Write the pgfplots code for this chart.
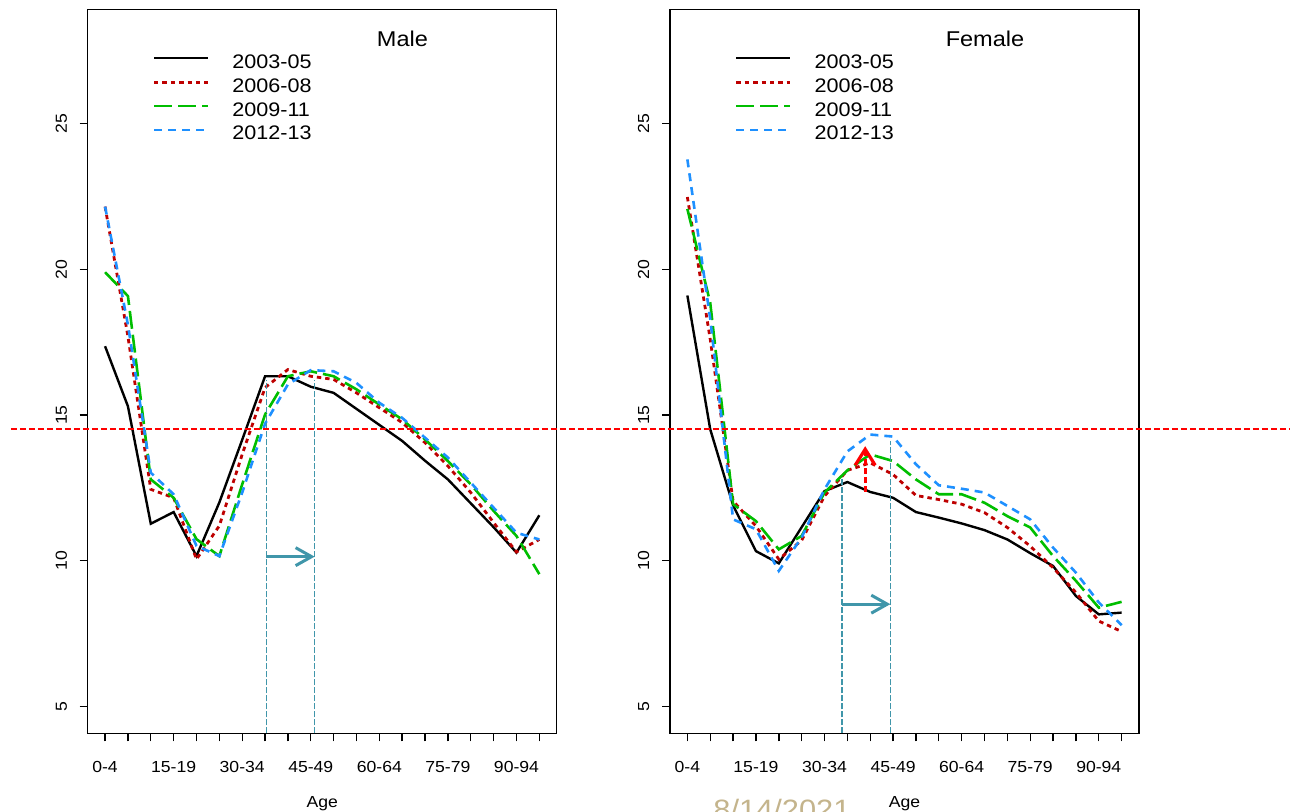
\documentclass[border=0pt]{standalone}
\usepackage{fontspec}
\setmainfont{Liberation Sans}[FakeStretch=1.1]
\usepackage{pgfplots}
\usepackage{pgfplotstable}
\pgfplotsset{compat=1.18}
\usetikzlibrary{arrows.meta}

\definecolor{c2}{RGB}{190,0,0}
\definecolor{c3}{RGB}{0,190,0}
\definecolor{c4}{RGB}{30,144,255}
\definecolor{tl}{RGB}{64,150,170}
\definecolor{wm}{RGB}{196,180,140}

% i = age group (0 = 0-4, ..., 19 = 95+)
\pgfplotstableread{
i a b c d
0 17.36 22.15 19.90 22.15
1 15.30 17.70 19.08 18.10
2 11.27 12.45 12.79 13.02
3 11.67 12.16 12.16 12.28
4 10.16 10.05 10.74 10.51
5 12.00 11.20 10.16 10.16
6 14.15 13.65 12.62 12.34
7 16.33 15.94 15.02 14.70
8 16.33 16.56 16.33 16.05
9 15.97 16.33 16.50 16.54
10 15.76 16.22 16.33 16.50
11 15.21 15.76 15.88 16.10
12 14.66 15.25 15.36 15.42
13 14.11 14.74 14.85 14.90
14 13.43 14.05 14.16 14.22
15 12.79 13.25 13.42 13.54
16 11.97 12.34 12.62 12.68
17 11.15 11.31 11.71 11.82
18 10.28 10.30 10.85 10.96
19 11.56 10.73 9.54 10.73
}\male

\pgfplotstableread{
i a b c d
0 19.10 22.48 22.07 23.77
1 14.51 17.60 18.85 18.30
2 11.90 12.05 11.94 11.42
3 10.33 11.19 11.36 11.08
4 9.91 10.05 10.39 9.65
5 11.15 10.70 10.85 10.80
6 12.39 12.22 12.34 12.45
7 12.70 13.10 13.10 13.75
8 12.36 13.36 13.65 14.33
9 12.16 12.96 13.42 14.26
10 11.67 12.24 12.79 13.31
11 11.48 12.10 12.28 12.59
12 11.28 11.94 12.28 12.47
13 11.05 11.65 11.99 12.34
14 10.73 11.14 11.53 11.88
15 10.26 10.50 11.14 11.42
16 9.82 9.76 10.16 10.45
17 8.79 8.91 9.31 9.59
18 8.16 7.93 8.39 8.57
19 8.22 7.57 8.59 7.79
}\female

\newcommand\legfont{\fontsize{9.8}{11}\selectfont}
\newcommand\tickfont{\fontsize{8}{9}\selectfont}

\tikzset{
  s1/.style={black, line width=1.2pt},
  s2/.style={c2, line width=1.4pt, dash pattern=on 2.2pt off 2pt},
  s3/.style={c3, line width=1.3pt, dash pattern=on 9pt off 3pt},
  s4/.style={c4, line width=1.3pt, dash pattern=on 4pt off 3pt},
  vl/.style={tl, line width=0.8pt, dash pattern=on 3pt off 1pt},
}

\pgfplotsset{
  panel/.style={
    scale only axis, width=234.5pt, height=362pt,
    anchor=south west,
    xmin=-0.76, xmax=19.76, ymin=4.08, ymax=28.92,
    xtick={0,...,19},
    xticklabels={0-4,,,15-19,,,30-34,,,45-49,,,60-64,,,75-79,,,90-94,},
    ytick={5,10,15,20,25},
    tick align=outside, tick pos=left,
    major tick length=4pt,
    axis line style={line width=0.7pt},
    every tick/.style={black, line width=0.7pt},
    tick label style={font=\tickfont},
    /pgf/number format/assume math mode=true,
    yticklabel style={rotate=90, anchor=south},
    xticklabel shift=6.7pt, yticklabel shift=2.8pt,
    xlabel={Age},
    xlabel style={at={(axis description cs:0.5,0)}, anchor=base, yshift=-37pt, font=\tickfont},
  },
}

\begin{document}
\begin{tikzpicture}
\path[use as bounding box] (0,0) rectangle (645.5pt,406pt);

% Male
\begin{axis}[panel, at={(43.85pt,39.35pt)}]
\addplot[s1] table[x=i,y=a]{\male};
\addplot[s2] table[x=i,y=b]{\male};
\addplot[s3] table[x=i,y=c]{\male};
\addplot[s4] table[x=i,y=d]{\male};
\addplot[vl, forget plot] coordinates {(7.06,4.08) (7.06,16.2)};
\addplot[vl, forget plot] coordinates {(9.17,4.08) (9.17,16.2)};
\addplot[tl, line width=1.5pt, -{Straight Barb[length=8pt,width=9pt]}, forget plot] coordinates {(7.06,10.14) (9.17,10.14)};
\draw[s1] ([xshift=33.15pt,yshift=-24.5pt]rel axis cs:0,1) -- ++(27pt,0pt);
\draw[s2] ([xshift=33.15pt,yshift=-36.45pt]rel axis cs:0,1) -- ++(27pt,0pt);
\draw[s3] ([xshift=33.15pt,yshift=-48.4pt]rel axis cs:0,1) -- ++(27pt,0pt);
\draw[s4] ([xshift=33.15pt,yshift=-60.35pt]rel axis cs:0,1) -- ++(27pt,0pt);
\node[anchor=base west, inner sep=0pt, font=\legfont] at ([xshift=72.15pt,yshift=-29.5pt]rel axis cs:0,1) {2003-05};
\node[anchor=base west, inner sep=0pt, font=\legfont] at ([xshift=72.15pt,yshift=-41.45pt]rel axis cs:0,1) {2006-08};
\node[anchor=base west, inner sep=0pt, font=\legfont] at ([xshift=72.15pt,yshift=-53.4pt]rel axis cs:0,1) {2009-11};
\node[anchor=base west, inner sep=0pt, font=\legfont] at ([xshift=72.15pt,yshift=-65.35pt]rel axis cs:0,1) {2012-13};
\node[anchor=base, inner sep=0pt, font=\fontsize{10.7}{12}\selectfont] at ([xshift=157.4pt,yshift=-18.7pt]rel axis cs:0,1) {Male};
\end{axis}

% Female
\begin{axis}[panel, at={(335pt,39.35pt)}, clip=false]
\addplot[s1] table[x=i,y=a]{\female};
\addplot[s2] table[x=i,y=b]{\female};
\addplot[s3] table[x=i,y=c]{\female};
\addplot[s4] table[x=i,y=d]{\female};
\addplot[vl, forget plot] coordinates {(6.77,4.08) (6.77,12.8)};
\addplot[vl, forget plot] coordinates {(8.88,4.08) (8.88,14.1)};
\addplot[tl, line width=1.5pt, -{Straight Barb[length=8pt,width=9pt]}, forget plot] coordinates {(6.77,8.51) (8.88,8.51)};
\addplot[red, line width=1.6pt, dash pattern=on 3pt off 1.5pt, -{Straight Barb[length=8pt,width=10pt]}, forget plot] coordinates {(7.78,12.36) (7.78,13.93)};
\addplot[red, line width=1pt, dash pattern=on 3pt off 1.5pt, forget plot] coordinates {(-29.6,14.53) (26.35,14.53)};
\draw[s1] ([xshift=33.15pt,yshift=-24.5pt]rel axis cs:0,1) -- ++(27pt,0pt);
\draw[s2] ([xshift=33.15pt,yshift=-36.45pt]rel axis cs:0,1) -- ++(27pt,0pt);
\draw[s3] ([xshift=33.15pt,yshift=-48.4pt]rel axis cs:0,1) -- ++(27pt,0pt);
\draw[s4] ([xshift=33.15pt,yshift=-60.35pt]rel axis cs:0,1) -- ++(27pt,0pt);
\node[anchor=base west, inner sep=0pt, font=\legfont] at ([xshift=72.15pt,yshift=-29.5pt]rel axis cs:0,1) {2003-05};
\node[anchor=base west, inner sep=0pt, font=\legfont] at ([xshift=72.15pt,yshift=-41.45pt]rel axis cs:0,1) {2006-08};
\node[anchor=base west, inner sep=0pt, font=\legfont] at ([xshift=72.15pt,yshift=-53.4pt]rel axis cs:0,1) {2009-11};
\node[anchor=base west, inner sep=0pt, font=\legfont] at ([xshift=72.15pt,yshift=-65.35pt]rel axis cs:0,1) {2012-13};
\node[anchor=base, inner sep=0pt, font=\fontsize{10.7}{12}\selectfont] at ([xshift=157.5pt,yshift=-18.7pt]rel axis cs:0,1) {Female};
\end{axis}

\node[anchor=base west, inner sep=0pt, text=wm, font=\fontsize{14}{16}\selectfont] at (356.5pt,-4pt) {8/14/2021};
\end{tikzpicture}
\end{document}
